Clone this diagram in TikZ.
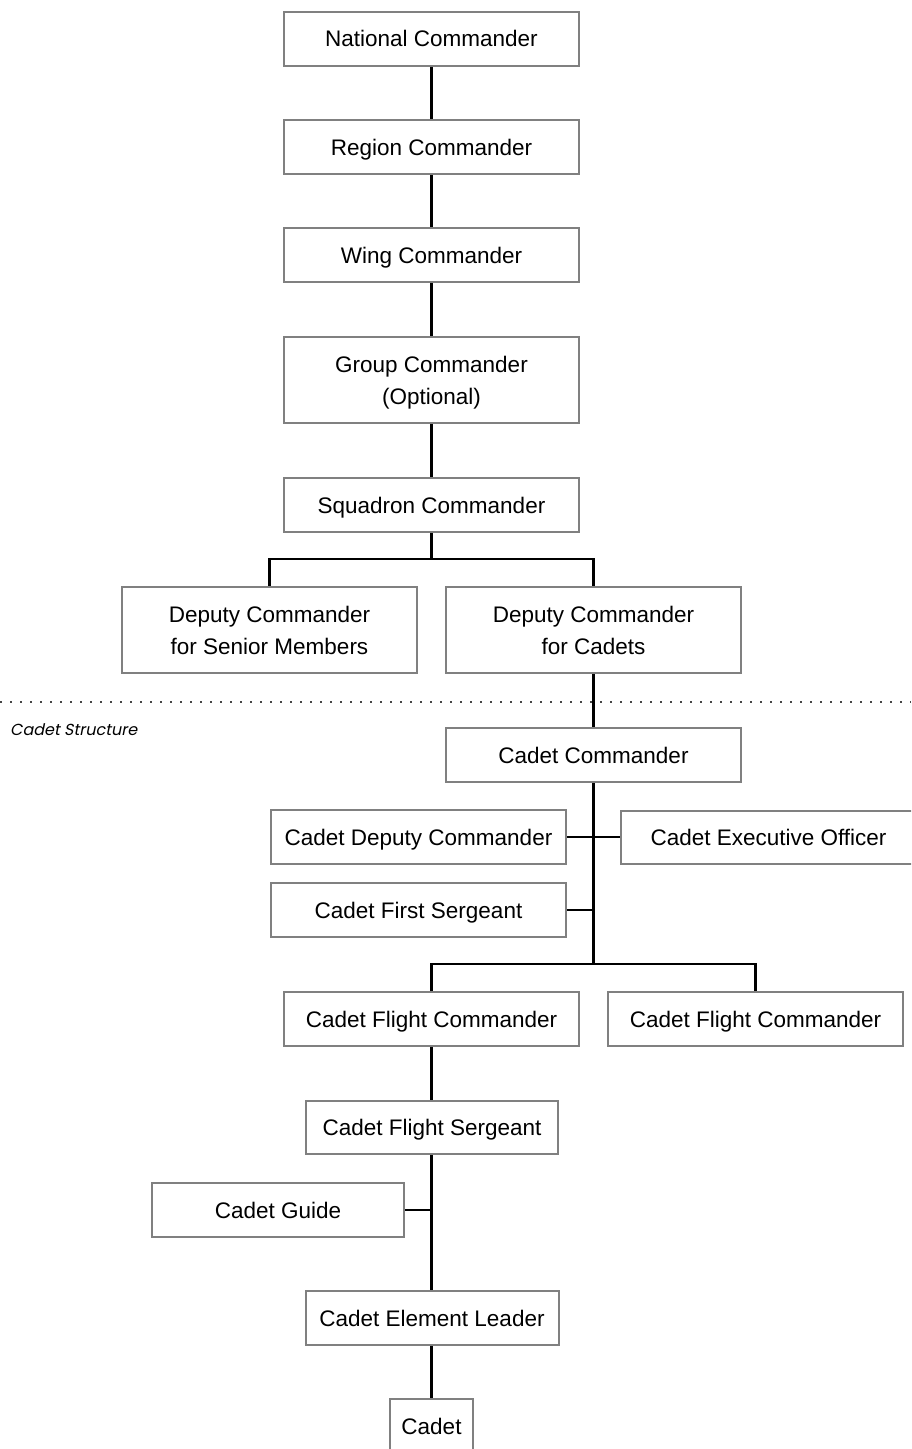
\documentclass[tikz,border=0pt]{standalone}
\usepackage{fontspec}
\setmainfont{Liberation Sans}
\newfontfamily\capfont[FakeSlant=0.2]{Poppins}
\definecolor{boxgray}{RGB}{128,128,128}
\definecolor{dotgray}{RGB}{70,70,70}
\begin{document}
\begin{tikzpicture}[x=1pt,y=-1pt,
  box/.style={draw=boxgray, line width=2pt, fill=white, inner sep=0pt, outer sep=0pt,
    minimum width=295pt, minimum height=54pt,
    font=\fontsize{22.5}{32}\selectfont, text height=20pt, text depth=4pt},
  tall/.style={minimum height=86pt, align=center, text height=, text depth=0pt},
  conn/.style={draw=black, line width=2.5pt},
  sep/.style={draw=dotgray, line width=1.8pt, dash pattern=on 1.6pt off 8.4pt}]
\useasboundingbox (0,0) rectangle (911,1449);
\clip (0,0) rectangle (911,1449);
\fill[white] (0,0) rectangle (911,1449);

% positions
\coordinate (nat) at (431.5,38.5);
\coordinate (reg) at (431.5,147);
\coordinate (wing) at (431.5,255);
\coordinate (grp) at (431.5,380);
\coordinate (sqd) at (431.5,505);
\coordinate (dsm) at (269.5,630);
\coordinate (dcc) at (593.5,630);
\coordinate (cc) at (593.5,755);
\coordinate (cdc) at (418.5,837);
\coordinate (ceo) at (768.5,837);
\coordinate (cfs) at (418.5,910);
\coordinate (cfc1) at (431.5,1019);
\coordinate (cfc2) at (755.5,1019);
\coordinate (cfsg) at (432,1127.5);
\coordinate (cg) at (278,1210);
\coordinate (cel) at (432,1318);
\coordinate (cad) at (431.5,1426);

\coordinate (barA) at (431.5,559);
\coordinate (barB) at (593.5,964);

\draw[sep] (0,702) -- (911,702);

% connectors
\draw[conn] (nat) -- (sqd);
\draw[conn] (sqd) -- (barA);
\draw[conn] (dsm) |- (barA) -| (dcc);
\draw[conn] (dcc) -- (barB);
\draw[conn] (cdc) -- (ceo);
\draw[conn] (cfs) -- (cfs -| barB);
\draw[conn] (cfc1) |- (barB) -| (cfc2);
\draw[conn] (cfc1) -- (cad);
\draw[conn] (cg) -- (cg -| cel);

% boxes
\node[box] (natN) at (nat) {National Commander};
\node[box] (regN) at (reg) {Region Commander};
\node[box] (wingN) at (wing) {Wing Commander};
\node[box,tall] (grpN) at (grp) {Group Commander\\(Optional)};
\node[box] (sqdN) at (sqd) {Squadron Commander};
\node[box,tall] (dsmN) at (dsm) {Deputy Commander\\for Senior Members};
\node[box,tall] (dccN) at (dcc) {Deputy Commander\\for Cadets};
\node[box] (ccN) at (cc) {Cadet Commander};
\node[box] (cdcN) at (cdc) {Cadet Deputy Commander};
\node[box,minimum height=53pt] (ceoN) at (ceo) {Cadet Executive Officer};
\node[box] (cfsN) at (cfs) {Cadet First Sergeant};
\node[box] (cfc1N) at (cfc1) {Cadet Flight Commander};
\node[box] (cfc2N) at (cfc2) {Cadet Flight Commander};
\node[box,minimum width=252pt,minimum height=53pt] (cfsgN) at (cfsg) {Cadet Flight Sergeant};
\node[box,minimum width=252pt] (cgN) at (cg) {Cadet Guide};
\node[box,minimum width=253pt] (celN) at (cel) {Cadet Element Leader};
\node[box,minimum width=83pt] (cadN) at (cad) {Cadet};

\node[anchor=base west, inner sep=0pt, font=\capfont\fontsize{16}{19}\selectfont] (cs) at (10,735) {Cadet Structure};
\end{tikzpicture}
\end{document}
